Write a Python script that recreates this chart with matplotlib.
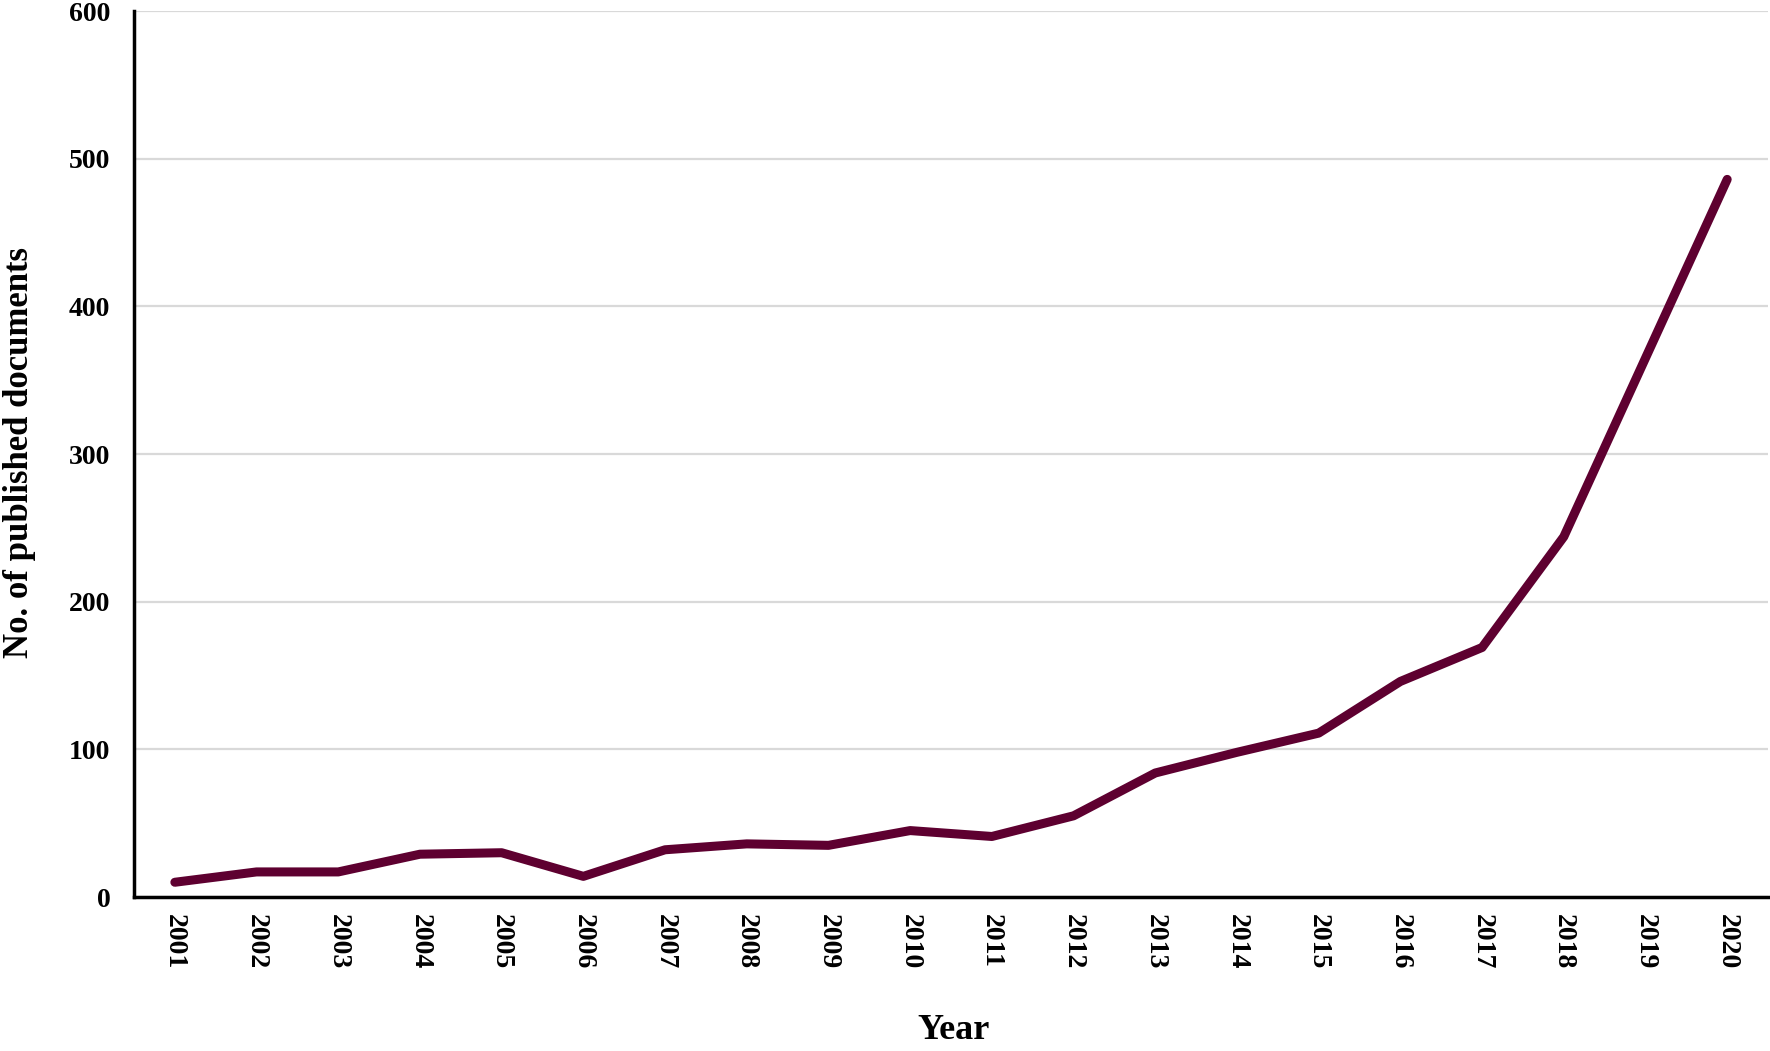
import numpy as np
import matplotlib.pyplot as plt

plt.rcParams['font.family'] = ['Liberation Serif', 'DejaVu Serif']
plt.rcParams['font.weight'] = 'bold'

years = ['2001', '2002', '2003', '2004', '2005', '2006', '2007', '2008', '2009', '2010',
         '2011', '2012', '2013', '2014', '2015', '2016', '2017', '2018', '2019', '2020']
docs = [10, 17, 17, 29, 30, 14, 32, 36, 35, 45, 41, 55, 84, 98, 111, 146, 169, 244, 365, 486]
yticks = [0, 100, 200, 300, 400, 500, 600]

fig = plt.figure(figsize=(17.7, 10.51), dpi=100)
ax = fig.add_axes([0.0757, 0.1465, 0.9232, 0.843])

x = np.arange(len(years))
ax.plot(x, docs, color='#5E0030', linewidth=6.5, solid_capstyle='round', solid_joinstyle='round', zorder=3)

ax.set_xlim(-0.5, len(years) - 0.5)
ax.set_ylim(0, 600)
ax.set_yticks(yticks)
ax.set_xticks(x)
ax.set_xticklabels(years, rotation=270, fontsize=20, fontweight='bold')
ax.set_yticklabels([str(v) for v in yticks], fontsize=20, fontweight='bold')
ax.tick_params(axis='x', length=0, pad=12)
ax.tick_params(axis='y', length=0, pad=17)

ax.grid(axis='y', color='#D9D9D9', linewidth=1.6, zorder=0)
ax.set_axisbelow(True)
for s in ['top', 'right']:
    ax.spines[s].set_visible(False)
for s in ['left', 'bottom']:
    ax.spines[s].set_linewidth(2.5)
    ax.spines[s].set_color('black')

fig.text(0.539, 0.004, 'Year', fontsize=26, fontweight='bold', ha='center', va='bottom')
fig.text(0.011, 0.569, 'No. of published documents', fontsize=25, fontweight='bold',
         rotation=90, ha='center', va='center')

fig.savefig('out.png', dpi=100)
